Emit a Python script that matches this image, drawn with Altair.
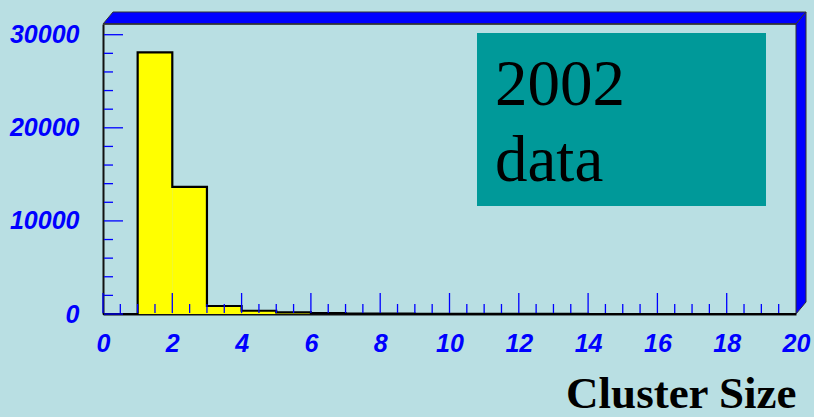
import altair as alt
import numpy as np
import pandas as pd

# Histogram of cluster sizes, unit-width bins from 0 to 20
bin_edges = list(range(0, 21))
counts = [0, 28100, 13650, 860, 350, 170, 90, 50, 30, 20, 12, 8, 5, 3, 2, 1, 1, 0, 0, 0]

y_labels = [0, 10000, 20000, 30000]
x_labels = [0, 2, 4, 6, 8, 10, 12, 14, 16, 18, 20]
y_minor = [2000, 4000, 6000, 8000, 12000, 14000, 16000, 18000,
           22000, 24000, 26000, 28000]
x_minor = [v / 2 for v in range(1, 40) if v % 4 != 0]

# Layout (pixels)
W, H = 693, 290
PAD_L, PAD_T = 103, 24
TOTAL_W, TOTAL_H = 814, 417
XMAX = 20
YMAX = 31150

BG = "#b9dfe3"
BLUE = "#0000ff"
TEAL = "#009999"
FRAME = "#333333"

# Depth of the 3D frame edges, converted into data units
dx = 10 / W * XMAX
dy = 12 / H * YMAX

xs = alt.Scale(domain=[0, XMAX], nice=False, zero=False)
ys = alt.Scale(domain=[0, YMAX], nice=False)

x_axis = alt.Axis(
    values=x_labels, format="d", ticks=False, grid=False,
    domainColor="#111111", domainWidth=2,
    labelFont="Liberation Sans", labelFontSize=25, labelFontWeight="bold",
    labelFontStyle="italic", labelColor=BLUE, labelPadding=17,
    labelFlush=False, labelOverlap=False,
    title="Cluster Size", titleFont="Liberation Serif", titleFontSize=45,
    titleFontWeight="bold", titleColor="#000000", titleAlign="right",
    titleBaseline="alphabetic", titleX=W, titleY=93,
)
y_axis = alt.Axis(
    values=y_labels, format="d", ticks=False, grid=False,
    domainColor="#111111", domainWidth=2,
    labelFont="Liberation Sans", labelFontSize=25, labelFontWeight="bold",
    labelFontStyle="italic", labelColor=BLUE, labelPadding=24,
    labelFlush=False, labelOverlap=False, title=None,
)

hist = pd.DataFrame({
    "lo": bin_edges[:-1],
    "hi": bin_edges[1:],
    "count": counts,
})
outline = pd.DataFrame({
    "edge": bin_edges,
    "count": counts + [counts[-1]],
})

bars = alt.Chart(hist).mark_rect(color="#ffff00").encode(
    x=alt.X("lo:Q", scale=xs, axis=x_axis),
    x2="hi:Q",
    y=alt.Y("count:Q", scale=ys, axis=y_axis),
    y2=alt.datum(0),
)

step = alt.Chart(outline).mark_line(
    interpolate="step-after", color="#000000", strokeWidth=2.2
).encode(
    x=alt.X("edge:Q", scale=xs, axis=x_axis),
    y=alt.Y("count:Q", scale=ys, axis=y_axis),
)

# Inward tick marks
x_major_df = pd.DataFrame({"v": x_labels[:-1]})
x_minor_df = pd.DataFrame({"v": x_minor})
y_major_df = pd.DataFrame({"v": y_labels})
y_minor_df = pd.DataFrame({"v": y_minor})

TICK_W = 1.3
x_major_ticks = alt.Chart(x_major_df).mark_rule(color=BLUE, strokeWidth=TICK_W).encode(
    x=alt.X("v:Q", scale=xs, axis=x_axis), y=alt.value(H - 1), y2=alt.value(H - 21)
)
x_minor_ticks = alt.Chart(x_minor_df).mark_rule(color=BLUE, strokeWidth=TICK_W).encode(
    x=alt.X("v:Q", scale=xs, axis=x_axis), y=alt.value(H - 1), y2=alt.value(H - 10)
)
y_major_ticks = alt.Chart(y_major_df).mark_rule(color=BLUE, strokeWidth=TICK_W).encode(
    y=alt.Y("v:Q", scale=ys, axis=y_axis), x=alt.value(1), x2=alt.value(20)
)
y_minor_ticks = alt.Chart(y_minor_df).mark_rule(color=BLUE, strokeWidth=TICK_W).encode(
    y=alt.Y("v:Q", scale=ys, axis=y_axis), x=alt.value(1), x2=alt.value(10)
)

# 3D frame: blue slanted bands along the top and right edges
top_band = pd.DataFrame({
    "x": [0, dx, XMAX, XMAX + dx],
    "y": [YMAX, YMAX, YMAX, YMAX + dy],
    "y2": [YMAX, YMAX + dy, YMAX + dy, YMAX + dy],
})
right_band = pd.DataFrame({
    "y": [0, dy, YMAX, YMAX + dy],
    "x": [XMAX, XMAX, XMAX, XMAX + dx],
    "x2": [XMAX, XMAX + dx, XMAX + dx, XMAX + dx],
})

top = alt.Chart(top_band).mark_area(
    color=BLUE, stroke=FRAME, strokeWidth=1, orient="vertical"
).encode(
    x=alt.X("x:Q", scale=xs, axis=x_axis),
    y=alt.Y("y:Q", scale=ys, axis=y_axis),
    y2="y2:Q",
)
right = alt.Chart(right_band).mark_area(
    color=BLUE, stroke=FRAME, strokeWidth=1, orient="horizontal"
).encode(
    y=alt.Y("y:Q", scale=ys, axis=y_axis),
    x=alt.X("x:Q", scale=xs, axis=x_axis),
    x2="x2:Q",
)
top_edge = alt.Chart(pd.DataFrame({"x": [0, XMAX], "y": [YMAX, YMAX]})).mark_line(
    color=FRAME, strokeWidth=1.5
).encode(
    x=alt.X("x:Q", scale=xs, axis=x_axis),
    y=alt.Y("y:Q", scale=ys, axis=y_axis),
)

# Label box
one = pd.DataFrame({"k": [0]})
box = alt.Chart(one).mark_rect(color=TEAL).encode(
    x=alt.value(374), x2=alt.value(663), y=alt.value(9), y2=alt.value(182)
)
line1 = alt.Chart(one).mark_text(
    text="2002", font="Liberation Serif", fontSize=65, color="#000000",
    align="left", baseline="alphabetic"
).encode(x=alt.value(392), y=alt.value(81))
line2 = alt.Chart(one).mark_text(
    text="data", font="Liberation Serif", fontSize=65, color="#000000",
    align="left", baseline="alphabetic"
).encode(x=alt.value(392), y=alt.value(157))

chart = alt.layer(
    top, right, top_edge, bars, step,
    x_minor_ticks, x_major_ticks, y_minor_ticks, y_major_ticks,
    box, line1, line2,
).properties(
    width=W, height=H,
    autosize=alt.AutoSizeParams(type="none"),
    padding={"left": PAD_L, "top": PAD_T,
             "right": TOTAL_W - PAD_L - W, "bottom": TOTAL_H - PAD_T - H},
).configure(background=BG).configure_view(stroke=None)

chart.save("out.html", embed_options={"renderer": "svg", "actions": False})
